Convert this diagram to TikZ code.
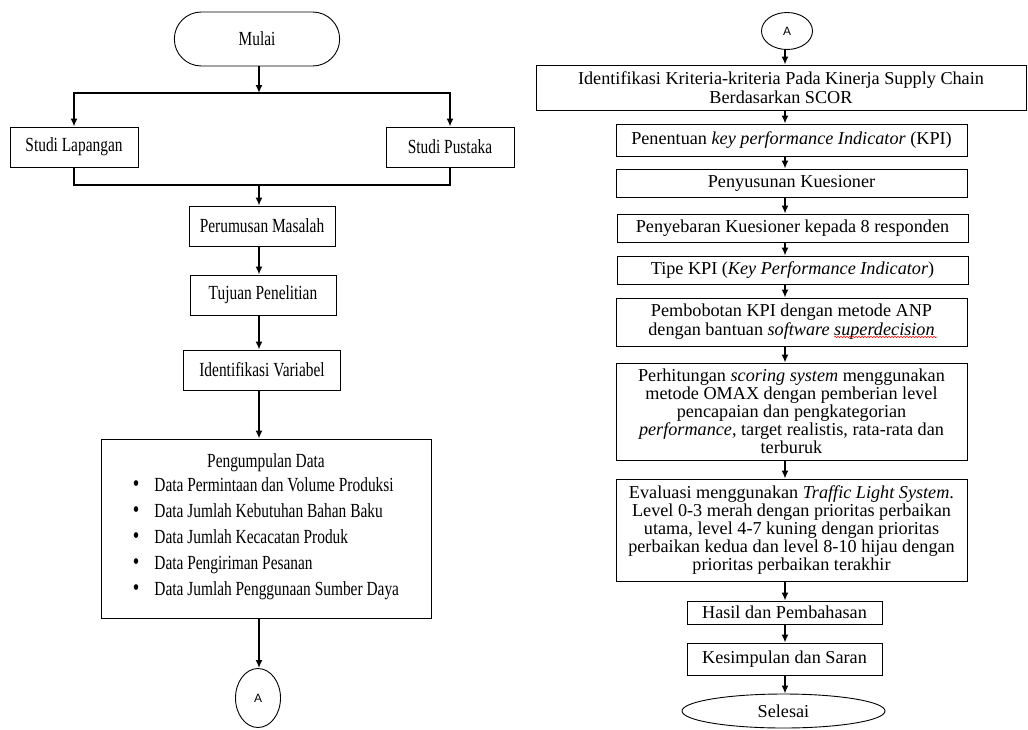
\documentclass[tikz,border=0pt]{standalone}
\usepackage{fontspec}
\setmainfont{Liberation Serif}
\newfontfamily\kirifont[FakeStretch=0.77]{Liberation Serif}
\newfontfamily\konektorfont{Liberation Sans}
\usetikzlibrary{arrows.meta,shapes.geometric,shapes.misc,decorations.pathmorphing}
\tikzset{
  >={Latex[length=8pt,width=7pt]},
  box/.style      = { draw, rectangle, line width=0.9pt, inner sep=2pt, align=center },
  lbox/.style     = { box, font=\kirifont\fontsize{20}{22}\selectfont },
  rbox/.style     = { box, font=\fontsize{18.2}{19}\selectfont, minimum width=351 },
  terminal/.style = { draw, rounded rectangle, line width=0.9pt, font=\kirifont\fontsize{20}{22}\selectfont },
  oval/.style     = { draw, ellipse, line width=0.9pt, inner sep=0pt, font=\fontsize{18.2}{19}\selectfont },
  konektor/.style = { draw, ellipse, line width=0.9pt, inner sep=0pt, font=\konektorfont\fontsize{12}{13}\selectfont },
  flow/.style     = { ->, line width=1.7pt },
  branch/.style   = { line width=2.2pt }
}
\newcommand{\titik}{{\fontsize{24}{24}\selectfont\textbullet}}

\begin{document}
\begin{tikzpicture}[x=1pt,y=-1pt]
  \useasboundingbox (0,0) rectangle (1028,729);

  % Left column
  \coordinate (split) at (259,93);
  \coordinate (merge) at (259,185);
  \node[terminal, minimum width=172, minimum height=54] (mulai) at (257,39) {Mulai};
  \node[lbox, minimum width=128, minimum height=40] (lapangan) at (74,147) {Studi Lapangan};
  \node[lbox, minimum width=128, minimum height=40] (pustaka) at (450,147) {Studi Pustaka};
  \node[lbox, minimum width=146, minimum height=40] (perumusan) at (262,226) {Perumusan Masalah};
  \node[lbox, minimum width=146, minimum height=40] (tujuan) at (263,295) {Tujuan Penelitian};
  \node[lbox, minimum width=157, minimum height=40] (identifikasi) at (262,370) {Identifikasi Variabel};
  \node[lbox, minimum width=330, minimum height=179, font=\kirifont\fontsize{20}{26}\selectfont] (pengumpulan) at (266,528.5)
    {Pengumpulan Data\\
     \begin{tabular}{@{}l@{\hspace{15pt}}l@{}}
       \titik & Data Permintaan dan Volume Produksi\\
       \titik & Data Jumlah Kebutuhan Bahan Baku\\
       \titik & Data Jumlah Kecacatan Produk\\
       \titik & Data Pengiriman Pesanan\\
       \titik & Data Jumlah Penggunaan Sumber Daya
     \end{tabular}};
  \node[konektor, minimum width=45, minimum height=59] (konektorA) at (258,698) {A};

  \draw[flow] (mulai.south -| split) -- (split);
  \draw[flow] (split) -| (lapangan);
  \draw[flow] (split) -| (pustaka);
  \draw[branch] (lapangan.south) |- (merge) -| (pustaka.south);
  \draw[flow] (merge) -- (perumusan.north -| merge);
  \foreach \a/\b in {perumusan/tujuan, tujuan/identifikasi, identifikasi/pengumpulan, pengumpulan/konektorA}
    \draw[flow] (\a.south -| split) -- (\b.north -| split);

  % Right column
  \coordinate (axisR) at (785,0);
  \node[konektor, minimum width=51, minimum height=37] (konektorB) at (787,31) {A};
  \node[rbox, minimum width=490, minimum height=45] (kriteria) at (781,87.5)
    {Identifikasi Kriteria-kriteria Pada Kinerja Supply Chain\\Berdasarkan SCOR};
  \node[rbox, minimum height=32] (penentuan) at (791.5,140)
    {Penentuan \textit{key performance Indicator} (KPI)};
  \node[rbox, minimum height=28] (penyusunan) at (791.5,183) {Penyusunan Kuesioner};
  \node[rbox, minimum height=28] (penyebaran) at (792.5,228) {Penyebaran Kuesioner kepada 8 responden};
  \node[rbox, minimum height=28] (tipe) at (792.5,270) {Tipe KPI (\textit{Key Performance Indicator})};
  \node[rbox, minimum height=48] (pembobotan) at (791.5,322)
    {Pembobotan KPI dengan metode ANP\\dengan bantuan \textit{software superdecision}};
  \node[rbox, minimum height=97, font=\fontsize{18.2}{18}\selectfont] (perhitungan) at (791.5,411.5)
    {Perhitungan \textit{scoring system} menggunakan\\metode OMAX dengan pemberian level\\pencapaian dan pengkategorian\\
     \textit{performance}, target realistis, rata-rata dan\\terburuk};
  \node[rbox, minimum height=102, font=\fontsize{18.2}{18}\selectfont] (evaluasi) at (791.5,530)
    {Evaluasi menggunakan \textit{Traffic Light System}.\\Level 0-3 merah dengan prioritas perbaikan\\
     utama, level 4-7 kuning dengan prioritas\\perbaikan kedua dan level 8-10 hijau dengan\\prioritas perbaikan terakhir};
  \node[rbox, minimum width=195, minimum height=23] (hasil) at (784.5,612.5) {Hasil dan Pembahasan};
  \node[rbox, minimum width=195, minimum height=32] (kesimpulan) at (784.5,659) {Kesimpulan dan Saran};
  \node[oval, minimum width=203, minimum height=34] (selesai) at (783.5,711) {Selesai};

  \foreach \a/\b in {konektorB/kriteria, kriteria/penentuan, penentuan/penyusunan, penyusunan/penyebaran,
                     penyebaran/tipe, tipe/pembobotan, pembobotan/perhitungan, perhitungan/evaluasi,
                     evaluasi/hasil, hasil/kesimpulan, kesimpulan/selesai}
    \draw[flow] (\a.south -| axisR) -- (\b.north -| axisR);

  % spell-check underline
  \draw[red, line width=0.5pt, decorate, decoration={snake, amplitude=0.8pt, segment length=3pt}]
    (834,337) -- (937,337);
\end{tikzpicture}
\end{document}
